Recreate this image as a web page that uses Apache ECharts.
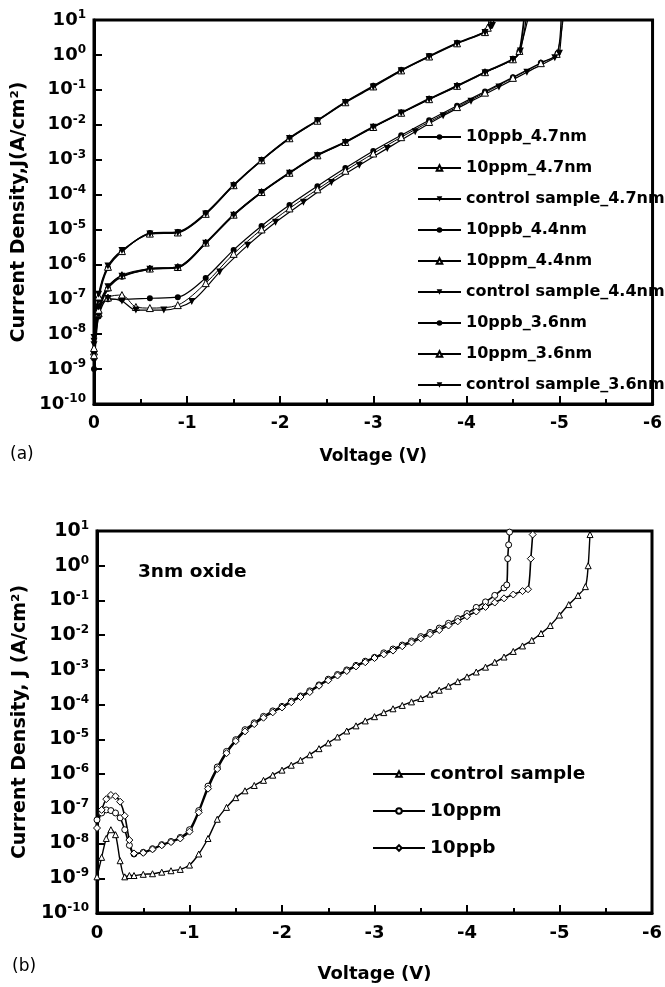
<!DOCTYPE html>
<html>
<head>
<meta charset="utf-8">
<script src="https://cdn.jsdelivr.net/npm/echarts@6/dist/echarts.min.js"></script>
<style>
html,body{margin:0;padding:0;background:#fff;}
#main{width:665px;height:987px;}
</style>
</head>
<body>
<div id="main"></div>
<script>
// ---- panel (a): J-V for three oxide thicknesses ----
var v_ppb36 = [0,-0.05,-0.15,-0.3,-0.6,-0.9,-1.2,-1.5,-1.8,-2.1,-2.4,-2.7,-3.0,-3.3,-3.6,-3.9,-4.2,-4.25,-4.3];
var j_ppb36 = [3.2e-9,1e-7,7.9e-7,2.3e-6,7.9e-6,8.5e-6,2.95e-5,1.9e-4,9.8e-4,4.2e-3,1.35e-2,4.5e-2,0.13,0.37,0.93,2.2,4.6,6.5,40];
var v_ppm36 = [0,-0.05,-0.15,-0.3,-0.6,-0.9,-1.2,-1.5,-1.8,-2.1,-2.4,-2.7,-3.0,-3.3,-3.6,-3.9,-4.2,-4.23,-4.27];
var j_ppm36 = [4e-9,1.2e-7,8.5e-7,2.4e-6,7.6e-6,8.2e-6,2.8e-5,1.85e-4,9.6e-4,4.1e-3,1.3e-2,4.4e-2,0.125,0.36,0.9,2.15,4.5,6,40];
var v_ctl36 = [0,-0.05,-0.15,-0.3,-0.6,-0.9,-1.2,-1.5,-1.8,-2.1,-2.4,-2.7,-3.0,-3.3,-3.6,-3.9,-4.2,-4.28,-4.33];
var j_ctl36 = [8e-9,1.4e-7,9e-7,2.5e-6,7.4e-6,8e-6,2.75e-5,1.8e-4,9.5e-4,4e-3,1.3e-2,4.3e-2,0.12,0.35,0.88,2.1,4.4,7,40];

var v_ppb44 = [0,-0.05,-0.15,-0.3,-0.6,-0.9,-1.2,-1.5,-1.8,-2.1,-2.4,-2.7,-3.0,-3.3,-3.6,-3.9,-4.2,-4.5,-4.57,-4.64];
var j_ppb44 = [1e-9,4e-8,2e-7,4.4e-7,7.4e-7,8.3e-7,4.1e-6,2.6e-5,1.17e-4,4.2e-4,1.35e-3,3.2e-3,8.7e-3,2.2e-2,5.5e-2,0.13,0.32,0.76,1.26,40];
var v_ppm44 = [0,-0.05,-0.15,-0.3,-0.6,-0.9,-1.2,-1.5,-1.8,-2.1,-2.4,-2.7,-3.0,-3.3,-3.6,-3.9,-4.2,-4.5,-4.57,-4.71];
var j_ppm44 = [2.5e-9,5e-8,2.2e-7,4.9e-7,7.6e-7,8.4e-7,4.2e-6,2.65e-5,1.18e-4,4.2e-4,1.33e-3,3.2e-3,8.6e-3,2.2e-2,5.4e-2,0.13,0.32,0.75,1.3,40];
var v_ctl44 = [0,-0.05,-0.15,-0.3,-0.6,-0.9,-1.2,-1.5,-1.8,-2.1,-2.4,-2.7,-3.0,-3.3,-3.6,-3.9,-4.2,-4.5,-4.58,-4.67];
var j_ctl44 = [5e-9,6e-8,2.3e-7,4.6e-7,7.2e-7,8e-7,4e-6,2.55e-5,1.15e-4,4.1e-4,1.3e-3,3.1e-3,8.5e-3,2.15e-2,5.3e-2,0.125,0.31,0.74,1.3,40];

var v_ppb47 = [0,-0.05,-0.15,-0.3,-0.6,-0.9,-1.2,-1.5,-1.8,-2.1,-2.4,-2.7,-3.0,-3.3,-3.6,-3.9,-4.2,-4.5,-4.8,-4.98,-5.02];
var j_ppb47 = [2e-9,3.2e-8,1e-7,1e-7,1.07e-7,1.15e-7,4.1e-7,2.6e-6,1.26e-5,5e-5,1.74e-4,5.75e-4,1.78e-3,5e-3,1.35e-2,3.5e-2,8.9e-2,0.23,0.6,1.12,40];
var v_ppm47 = [0,-0.05,-0.15,-0.3,-0.45,-0.6,-0.9,-1.2,-1.5,-1.8,-2.1,-2.4,-2.7,-3.0,-3.3,-3.6,-3.9,-4.2,-4.5,-4.8,-4.97,-5.06];
var j_ppm47 = [3.2e-9,4e-8,1.12e-7,1.32e-7,6e-8,5.6e-8,6.8e-8,2.9e-7,2e-6,1e-5,4e-5,1.41e-4,4.8e-4,1.5e-3,4.4e-3,1.2e-2,3.2e-2,8.3e-2,0.22,0.58,1.07,40];
var v_ctl47 = [0,-0.05,-0.15,-0.3,-0.45,-0.75,-1.05,-1.35,-1.65,-1.95,-2.25,-2.55,-2.85,-3.15,-3.45,-3.75,-4.05,-4.35,-4.65,-4.95,-5.0,-5.04];
var j_ctl47 = [6.3e-9,5e-8,1.05e-7,8.9e-8,4.9e-8,4.9e-8,8.7e-8,6e-7,3.5e-6,1.6e-5,6e-5,2.2e-4,6.9e-4,2.1e-3,6.3e-3,1.8e-2,4.7e-2,0.12,0.32,0.83,1.12,40];

// ---- panel (b): 3nm oxide ----
var vB = [0,-0.05,-0.1,-0.15,-0.2,-0.25,-0.3,-0.35,-0.4,-0.5,-0.6,-0.7,-0.8,-0.9,-1.0,-1.1,-1.2,-1.3,-1.4,-1.5,-1.6,-1.7,-1.8,-1.9,-2.0,-2.1,-2.2,-2.3,-2.4,-2.5,-2.6,-2.7,-2.8,-2.9,-3.0,-3.1,-3.2,-3.3,-3.4,-3.5,-3.6,-3.7,-3.8,-3.9,-4.0,-4.1,-4.2,-4.3,-4.4];
var jB_ctl = [1.1e-9,4e-9,1.4e-8,2.5e-8,1.8e-8,3.2e-9,1.1e-9,1.2e-9,1.2e-9,1.3e-9,1.35e-9,1.5e-9,1.65e-9,1.8e-9,2.4e-9,5e-9,1.4e-8,5e-8,1.1e-7,2.1e-7,3.3e-7,4.7e-7,6.6e-7,9.3e-7,1.3e-6,1.8e-6,2.5e-6,3.6e-6,5.4e-6,7.9e-6,1.17e-5,1.74e-5,2.45e-5,3.4e-5,4.5e-5,5.9e-5,7.6e-5,9.5e-5,1.2e-4,1.5e-4,2e-4,2.6e-4,3.4e-4,4.6e-4,6.3e-4,8.7e-4,1.2e-3,1.66e-3,2.35e-3];
var vB_ctlTail = [-4.5,-4.6,-4.7,-4.8,-4.9,-5.0,-5.1,-5.2,-5.28,-5.31,-5.33,-5.35];
var jB_ctlTail = [3.4e-3,4.9e-3,7.1e-3,1.12e-2,1.9e-2,3.8e-2,7.6e-2,0.14,0.25,1.0,7.9,40];
var jB_ppm = [4.8e-8,7.6e-8,9.3e-8,8.9e-8,7.6e-8,5.5e-8,2.5e-8,8.9e-9,5e-9,5.6e-9,7.1e-9,9.3e-9,1.15e-8,1.5e-8,2.5e-8,8.9e-8,4.5e-7,1.6e-6,4.5e-6,9.8e-6,1.9e-5,3e-5,4.6e-5,6.6e-5,8.9e-5,1.26e-4,1.78e-4,2.5e-4,3.7e-4,5.4e-4,7.4e-4,1e-3,1.35e-3,1.78e-3,2.3e-3,3.1e-3,4e-3,5.2e-3,6.8e-3,9.1e-3,1.2e-2,1.6e-2,2.2e-2,3e-2,4.2e-2,6.3e-2,9.1e-2,0.14,0.23];
var vB_ppmTail = [-4.43,-4.44,-4.45,-4.46,-4.47];
var jB_ppmTail = [0.28,1.6,4,9.3,40];
var jB_ppb = [2.8e-8,9.3e-8,1.9e-7,2.5e-7,2.3e-7,1.6e-7,6.3e-8,1.26e-8,5.2e-9,5.4e-9,6.8e-9,8.9e-9,1.1e-8,1.4e-8,2.2e-8,7.9e-8,3.8e-7,1.4e-6,4e-6,8.9e-6,1.7e-5,2.75e-5,4.2e-5,6e-5,8.3e-5,1.17e-4,1.66e-4,2.3e-4,3.5e-4,5e-4,6.9e-4,9.3e-4,1.26e-3,1.66e-3,2.2e-3,2.8e-3,3.6e-3,4.8e-3,6.2e-3,8.1e-3,1.07e-2,1.4e-2,1.9e-2,2.5e-2,3.5e-2,4.8e-2,6.5e-2,8.7e-2,0.115];
var vB_ppbTail = [-4.5,-4.6,-4.66,-4.69,-4.71,-4.73];
var jB_ppbTail = [0.148,0.186,0.21,1.6,7.9,40];

var F = 'DejaVu Sans';

function pairs(v, j) {
    var out = [];
    for (var i = 0; i < v.length; i++) out.push([v[i], j[i]]);
    return out;
}

var chart = echarts.init(document.getElementById('main'));

function xAxisFor(grid, size, gap) {
    return {
        gridIndex: grid, type: 'value', min: -6, max: 0, interval: 1, inverse: true,
        axisLine: {show: true, onZero: false, lineStyle: {color: '#000', width: 3}},
        axisTick: {inside: true, length: 8, lineStyle: {color: '#000', width: 2}},
        minorTick: {show: true, splitNumber: 2, length: 5, lineStyle: {color: '#000', width: 2}},
        splitLine: {show: false},
        axisLabel: {color: '#000', fontSize: size, fontWeight: 'bold', fontFamily: F, margin: 11},
        name: 'Voltage (V)', nameLocation: 'middle', nameGap: gap,
        nameTextStyle: {color: '#000', fontSize: size, fontWeight: 'bold', fontFamily: F}
    };
}

function yAxisFor(grid, name, size, gap) {
    return {
        gridIndex: grid, type: 'log', logBase: 10, min: 1e-10, max: 10, interval: 1,
        axisLine: {show: true, lineStyle: {color: '#000', width: 3}},
        axisTick: {inside: true, length: 8, lineStyle: {color: '#000', width: 2}},
        splitLine: {show: false},
        axisLabel: {
            color: '#000', fontSize: size, fontWeight: 'bold', fontFamily: F, margin: 8,
            formatter: function (v) {
                var e = Math.round(Math.log(v) / Math.LN10);
                return '10{s|' + e + '}';
            },
            rich: {s: {fontSize: 12, fontWeight: 'bold', fontFamily: F, color: '#000', verticalAlign: 'top', padding: [0, 0, 10, 0]}}
        },
        name: name, nameLocation: 'middle', nameGap: gap, nameRotate: 90,
        nameTextStyle: {color: '#000', fontSize: 19, fontWeight: 'bold', fontFamily: F}
    };
}

// marker kinds
function mk(name, v, j, grid, kind, lw) {
    var s = {
        name: name, type: 'line', xAxisIndex: grid, yAxisIndex: grid,
        data: pairs(v, j), smooth: 0.3, showAllSymbol: true,
        lineStyle: {color: '#000', width: lw},
        emphasis: {disabled: true}
    };
    if (kind === 'dot') {
        s.symbol = 'circle'; s.symbolSize = 6;
        s.itemStyle = {color: '#000'};
    } else if (kind === 'up') {
        s.symbol = 'triangle'; s.symbolSize = 7;
        s.itemStyle = {color: '#fff', borderColor: '#000', borderWidth: 1};
    } else if (kind === 'down') {
        s.symbol = 'triangle'; s.symbolSize = 7; s.symbolRotate = 180;
        s.itemStyle = {color: '#000'};
    } else if (kind === 'oUp') {
        s.symbol = 'triangle'; s.symbolSize = 6;
        s.itemStyle = {color: '#fff', borderColor: '#000', borderWidth: 1};
    } else if (kind === 'oCircle') {
        s.symbol = 'circle'; s.symbolSize = 6;
        s.itemStyle = {color: '#fff', borderColor: '#000', borderWidth: 1};
    } else if (kind === 'oDiamond') {
        s.symbol = 'diamond'; s.symbolSize = 7;
        s.itemStyle = {color: '#fff', borderColor: '#000', borderWidth: 1};
    }
    return s;
}

var namesA = ['10ppb_4.7nm', '10ppm_4.7nm', 'control sample_4.7nm',
              '10ppb_4.4nm', '10ppm_4.4nm', 'control sample_4.4nm',
              '10ppb_3.6nm', '10ppm_3.6nm', 'control sample_3.6nm'];
var namesB = ['control sample', '10ppm', '10ppb'];

var option = {
    animation: false,
    backgroundColor: '#fff',
    grid: [
        {left: 94, top: 20, width: 561, height: 384, show: true, borderColor: '#000', borderWidth: 3},
        {left: 97, top: 531, width: 558, height: 382, show: true, borderColor: '#000', borderWidth: 3}
    ],
    xAxis: [xAxisFor(0, 17, 44), xAxisFor(1, 18, 52)],
    yAxis: [yAxisFor(0, 'Current Density,J(A/cm\u00b2)', 18, 56), yAxisFor(1, 'Current Density, J (A/cm\u00b2)', 19, 59)],
    legend: [
        {
            data: namesA, orient: 'vertical', left: 412, top: 122,
            itemWidth: 43, itemHeight: 7, itemGap: 11,
            textStyle: {color: '#000', fontSize: 16, fontWeight: 'bold', fontFamily: F, lineHeight: 20}
        },
        {
            data: namesB, orient: 'vertical', left: 367, top: 758,
            itemWidth: 52, itemHeight: 7, itemGap: 15,
            textStyle: {color: '#000', fontSize: 18.5, fontWeight: 'bold', fontFamily: F, lineHeight: 22}
        }
    ],
    graphic: [
        {type: 'text', left: 10, top: 446, style: {text: '(a)', fontSize: 17, fontFamily: F, fill: '#000'}},
        {type: 'text', left: 12, top: 958, style: {text: '(b)', fontSize: 17, fontFamily: F, fill: '#000'}},
        {type: 'text', left: 138, top: 563, style: {text: '3nm oxide', fontSize: 18.5, fontWeight: 'bold', fontFamily: F, fill: '#000'}}
    ],
    series: [
        mk('10ppb_4.7nm', v_ppb47, j_ppb47, 0, 'dot', 1.2),
        mk('10ppm_4.7nm', v_ppm47, j_ppm47, 0, 'up', 1),
        mk('control sample_4.7nm', v_ctl47, j_ctl47, 0, 'down', 1.2),
        mk('10ppb_4.4nm', v_ppb44, j_ppb44, 0, 'dot', 1.8),
        mk('10ppm_4.4nm', v_ppm44, j_ppm44, 0, 'up', 1.2),
        mk('control sample_4.4nm', v_ctl44, j_ctl44, 0, 'down', 1.2),
        mk('10ppb_3.6nm', v_ppb36, j_ppb36, 0, 'dot', 1.3),
        mk('10ppm_3.6nm', v_ppm36, j_ppm36, 0, 'up', 1.2),
        mk('control sample_3.6nm', v_ctl36, j_ctl36, 0, 'down', 1.3),
        mk('control sample', vB.concat(vB_ctlTail), jB_ctl.concat(jB_ctlTail), 1, 'oUp', 1.4),
        mk('10ppm', vB.concat(vB_ppmTail), jB_ppm.concat(jB_ppmTail), 1, 'oCircle', 1.6),
        mk('10ppb', vB.concat(vB_ppbTail), jB_ppb.concat(jB_ppbTail), 1, 'oDiamond', 1.6)
    ]
};

chart.setOption(option);
</script>
</body>
</html>
